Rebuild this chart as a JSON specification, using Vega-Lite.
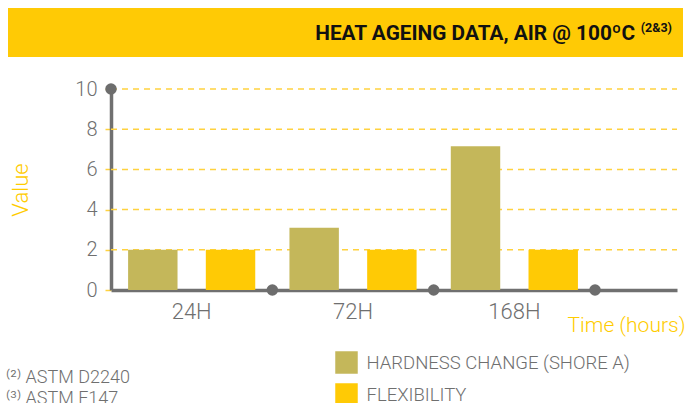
{
  "$schema": "https://vega.github.io/schema/vega-lite/v6.json",
  "padding": {"left": 8, "top": 8, "right": 0, "bottom": 0},
  "spacing": 22,
  "config": {
    "font": "Roboto",
    "view": {"stroke": null},
    "legend": {"padding": 0},
    "axisX": {
      "domain": true, "domainColor": "#707070", "domainWidth": 3.5, "zindex": 1,
      "ticks": false, "grid": false, "labelAngle": 0,
      "labelFontSize": 22, "labelColor": "#6f6f6f", "labelFontWeight": 300, "labelPadding": 11,
      "titleColor": "#FFCC00", "titleFontSize": 21, "titleFontWeight": 300,
      "titleX": 677, "titleY": 41, "titleAlign": "right", "titleBaseline": "alphabetic"
    },
    "axisY": {
      "offset": -103,
      "domainColor": "#707070", "domainWidth": 3.5, "zindex": 1,
      "tickColor": "#FFD23F", "tickSize": 11, "tickWidth": 1.5, "tickDash": [6, 5],
      "grid": false,
      "labelFontSize": 20, "labelColor": "#6f6f6f", "labelFontWeight": 300, "labelPadding": 3,
      "titleColor": "#FFCC00", "titleFontSize": 22, "titleFontWeight": 300,
      "titleX": -84, "titleY": 100.5, "titleBaseline": "alphabetic", "titleAngle": -90
    }
  },
  "vconcat": [
    {
      "width": 675,
      "height": 49,
      "view": {"fill": "#FFCA05", "stroke": null},
      "data": {"values": [{"heading": "HEAT AGEING DATA, AIR @ 100ºC", "refs": "(2&3)"}]},
      "layer": [
        {
          "mark": {"type": "text", "align": "right", "baseline": "alphabetic", "dx": 289.5, "dy": 7.5, "fontSize": 20.8, "fontWeight": "bold", "color": "#111111", "font": "Roboto"},
          "encoding": {"text": {"field": "heading"}}
        },
        {
          "mark": {"type": "text", "align": "right", "baseline": "alphabetic", "dx": 326.5, "dy": -0.5, "fontSize": 12.5, "fontWeight": "bold", "color": "#111111", "font": "Roboto"},
          "encoding": {"text": {"field": "refs"}}
        }
      ]
    },
    {
      "width": 669,
      "height": 201,
      "data": {"values": [
        {"time": "24H", "series": "HARDNESS CHANGE (SHORE A)", "value": 2},
        {"time": "24H", "series": "FLEXIBILITY", "value": 2},
        {"time": "72H", "series": "HARDNESS CHANGE (SHORE A)", "value": 3.1},
        {"time": "72H", "series": "FLEXIBILITY", "value": 2},
        {"time": "168H", "series": "HARDNESS CHANGE (SHORE A)", "value": 7.15},
        {"time": "168H", "series": "FLEXIBILITY", "value": 2}
      ]},
      "layer": [
        {
          "data": {"values": [{"tick": 2}, {"tick": 4}, {"tick": 6}, {"tick": 8}, {"tick": 10}]},
          "mark": {"type": "rule", "color": "#FFD23F", "strokeWidth": 1.5, "strokeDash": [6, 5]},
          "encoding": {
            "x": {"datum": "24H", "bandPosition": 0, "title": "Time (hours)", "scale": {"domain": ["24H", "72H", "168H"], "range": [103, 669], "paddingInner": 0, "paddingOuter": 0.254, "align": 0}},
            "x2": {"value": "width"},
            "y": {"field": "tick", "type": "quantitative", "title": "Value", "scale": {"domain": [0, 10], "nice": false, "zero": true}, "axis": {"values": [0, 2, 4, 6, 8, 10]}}
          }
        },
        {
          "mark": {"type": "bar"},
          "encoding": {
            "x": {
              "field": "time", "type": "nominal", "title": "Time (hours)",
              "scale": {"domain": ["24H", "72H", "168H"], "range": [103, 669], "paddingInner": 0, "paddingOuter": 0.254, "align": 0}
            },
            "xOffset": {
              "field": "series", "type": "nominal",
              "scale": {"domain": ["HARDNESS CHANGE (SHORE A)", "FLEXIBILITY"], "paddingInner": 0.364, "paddingOuter": 0.22}
            },
            "y": {
              "field": "value", "type": "quantitative", "title": "Value",
              "scale": {"domain": [0, 10], "nice": false, "zero": true},
              "axis": {"values": [0, 2, 4, 6, 8, 10]}
            },
            "color": {
              "field": "series", "type": "nominal",
              "scale": {"domain": ["HARDNESS CHANGE (SHORE A)", "FLEXIBILITY"], "range": ["#C4B75A", "#FFCA05"]},
              "legend": {
                "orient": "none", "legendX": 327, "legendY": 343, "title": null,
                "symbolType": "square", "symbolSize": 506, "symbolStrokeWidth": 0, "symbolOpacity": 1,
                "labelFontSize": 18.5, "labelColor": "#6f6f6f", "labelFontWeight": 300,
                "labelOffset": 8.5, "rowPadding": 9, "labelLimit": 400
              }
            }
          }
        },
        {
          "data": {"values": [{"time": "24H"}, {"time": "72H"}, {"time": "168H"}]},
          "mark": {"type": "point", "filled": true, "opacity": 1, "color": "#6d6d6d", "size": 133},
          "encoding": {
            "x": {"field": "time", "type": "nominal", "bandPosition": 1, "title": "Time (hours)", "scale": {"domain": ["24H", "72H", "168H"], "range": [103, 669], "paddingInner": 0, "paddingOuter": 0.254, "align": 0}},
            "y": {"datum": 0, "title": "Value", "scale": {"domain": [0, 10], "nice": false, "zero": true}, "axis": {"values": [0, 2, 4, 6, 8, 10]}}
          }
        },
        {
          "data": {"values": [{"time": "24H"}]},
          "mark": {"type": "point", "filled": true, "opacity": 1, "color": "#6d6d6d", "size": 133},
          "encoding": {
            "x": {"field": "time", "type": "nominal", "bandPosition": 0, "title": "Time (hours)", "scale": {"domain": ["24H", "72H", "168H"], "range": [103, 669], "paddingInner": 0, "paddingOuter": 0.254, "align": 0}},
            "y": {"datum": 10, "title": "Value", "scale": {"domain": [0, 10], "nice": false, "zero": true}, "axis": {"values": [0, 2, 4, 6, 8, 10]}}
          }
        },
        {
          "data": {"values": [
            {"note": "⁽²⁾ ASTM D2240"},
            {"note": "⁽³⁾ ASTM F147"}
          ]},
          "mark": {"type": "point", "opacity": 0},
          "encoding": {
            "shape": {
              "field": "note", "type": "nominal",
              "scale": {"domain": ["⁽²⁾ ASTM D2240", "⁽³⁾ ASTM F147"]},
              "legend": {
                "orient": "none", "legendX": 0, "legendY": 361, "title": null,
                "symbolSize": 1, "symbolOpacity": 0, "symbolStrokeWidth": 0,
                "labelFontSize": 18, "labelColor": "#6f6f6f", "labelFontWeight": 300,
                "labelOffset": -20, "rowPadding": 3, "labelLimit": 300
              }
            }
          }
        }
      ]
    }
  ]
}
